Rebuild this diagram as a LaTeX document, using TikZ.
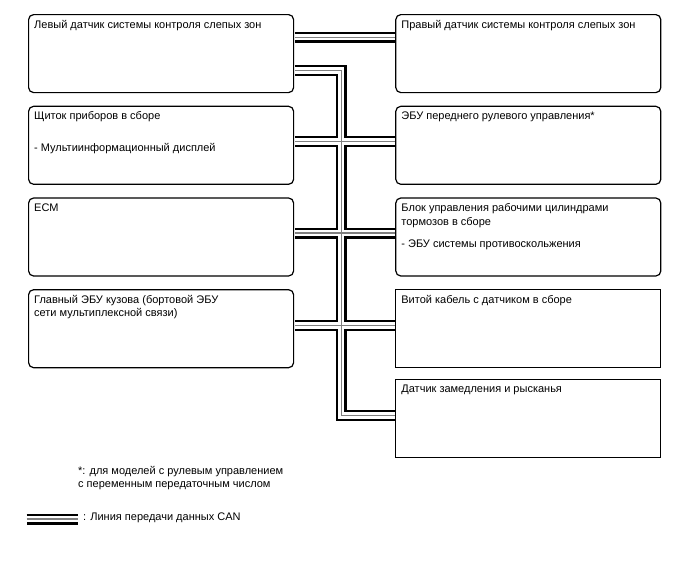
\documentclass[tikz,border=0pt]{standalone}
\usepackage{fontspec}
\setmainfont{Liberation Sans}
\usetikzlibrary{positioning}
\tikzset{canout/.style = {line width=11pt, black, shorten <=0.7pt, shorten >=0.7pt},
         canin/.style = {line width=6.5pt, white, shorten <=0.7pt, shorten >=0.7pt},
         canmid/.style = {line width=1.2pt, gray, shorten <=0.7pt, shorten >=0.7pt}}

\begin{document}
\begin{tikzpicture}[x=1pt, y=-1pt, node distance=12.5pt,
    box/.style={draw, line width=1.2pt, rounded corners=5pt, minimum width=265pt, minimum height=78pt, inner sep=0pt},
    sqbox/.style={box, sharp corners},
    boxtext/.style={anchor=north west, align=left, inner sep=0pt, xshift=6pt, yshift=-6pt, font=\fontsize{11}{13.5}\selectfont},
    note/.style={anchor=north west, align=left, inner sep=0pt, font=\fontsize{11}{13.5}\selectfont}]
    \useasboundingbox (0,0) rectangle (688,560);
    % left column
    \node[box, anchor=north west] (lbsm) at (28,14) [label={[boxtext]north west:Левый датчик системы контроля слепых зон}] {};
    \node[box] (meter) [below=of lbsm, label={[boxtext]north west:{Щиток приборов в сборе\\[18pt]- Мультиинформационный дисплей}}] {};
    \node[box] (ecm) [below=of meter, label={[boxtext]north west:ECM}] {};
    \node[box] (body) [below=of ecm, label={[boxtext]north west:{Главный ЭБУ кузова (бортовой ЭБУ\\сети мультиплексной связи)}}] {};
    % right column
    \node[box] (rbsm) [right=101pt of lbsm, label={[boxtext]north west:Правый датчик системы контроля слепых зон}] {};
    \node[box] (steer) [right=101pt of meter, label={[boxtext]north west:ЭБУ переднего рулевого управления*}] {};
    \node[box] (brake) [right=101pt of ecm, label={[boxtext]north west:{Блок управления рабочими цилиндрами\\тормозов в сборе\\[9pt]- ЭБУ системы противоскольжения}}] {};
    \node[sqbox] (spiral) [right=101pt of body, label={[boxtext]north west:Витой кабель с датчиком в сборе}] {};
    \node[sqbox] (yaw) [below=10.5pt of spiral, label={[boxtext]north west:Датчик замедления и рысканья}] {};

    \coordinate (bustop) at ([shift={(47pt,-17pt)}]lbsm.east);
    \coordinate (lega) at (26,519);
    \coordinate (legb) at (79,519);

    % CAN bus, drawn in three layers
    \foreach \layer in {canout,canin,canmid}{
        \draw[\layer] ([yshift=16.5pt]lbsm.east) -- ([yshift=16.5pt]rbsm.west);
        \draw[\layer] ([yshift=-17pt]lbsm.east) -- (bustop) |- ([yshift=3pt]yaw.west);
        \draw[\layer] ([yshift=4pt]meter.east) -- ([yshift=4pt]steer.west);
        \draw[\layer] ([yshift=4pt]ecm.east) -- ([yshift=4pt]brake.west);
        \draw[\layer] ([yshift=3pt]body.east) -- ([yshift=3pt]spiral.west);
        \draw[\layer] (lega) -- (legb);
    }

    \node[note] (star) at (78,466) {*: для моделей с рулевым управлением\\с переменным передаточным числом};
    \node[note, anchor=west] (legtxt) at (83,518) {: Линия передачи данных CAN};
\end{tikzpicture}
\end{document}
